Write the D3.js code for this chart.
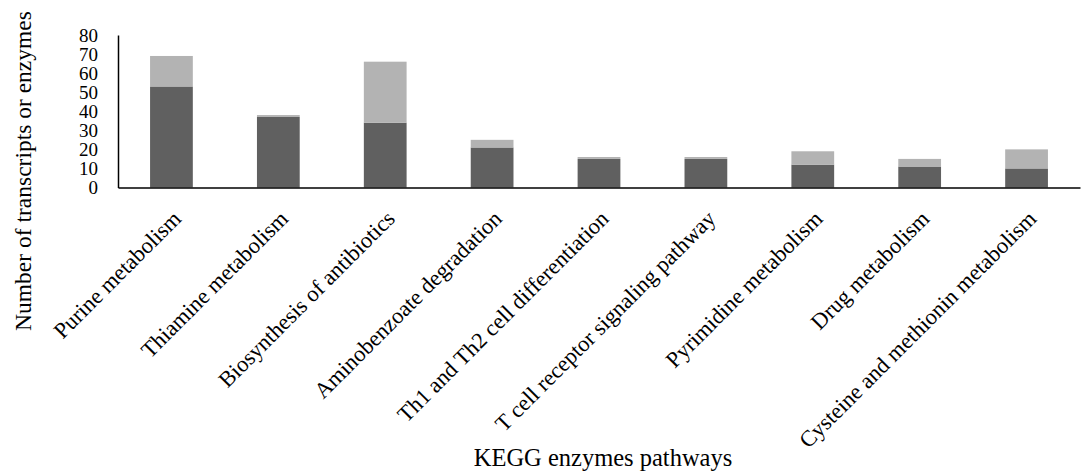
<!DOCTYPE html>
<html><head><meta charset="utf-8">
<script src="https://cdn.jsdelivr.net/npm/d3@7"></script>
<style>body{margin:0;background:#fff}svg{display:block}text{font-family:"Liberation Serif","Times New Roman",serif;fill:#000}</style>
</head><body>
<svg id="c" width="1092" height="474"></svg>
<script>
const categories = ["Purine metabolism","Thiamine metabolism","Biosynthesis of antibiotics","Aminobenzoate degradation","Th1 and Th2 cell differentiation","T cell receptor signaling pathway","Pyrimidine metabolism","Drug metabolism","Cysteine and methionin metabolism"];
const darkValues = [53,37,34,21,15,15,12,11,10];
const lightValues = [16,1,32,4,1,1,7,4,10];
const yTicks = [0,10,20,30,40,50,60,70,80];

const svg = d3.select("#c");
const mLeft = 118, mRight = 1080, mTop = 35, mBottom = 187.5;
const x = d3.scaleBand().domain(categories).range([mLeft,mRight]).paddingInner(0.6).paddingOuter(0.3);
const y = d3.scaleLinear().domain([0,80]).range([mBottom,mTop]);

const data = categories.map((c,i)=>({c, dark:darkValues[i], light:lightValues[i]}));
const g = svg.append("g");
g.selectAll("rect.dark").data(data).join("rect").attr("class","dark")
  .attr("x",d=>x(d.c)).attr("width",x.bandwidth())
  .attr("y",d=>y(d.dark)).attr("height",d=>y(0)-y(d.dark)).attr("fill","#606060");
g.selectAll("rect.light").data(data).join("rect").attr("class","light")
  .attr("x",d=>x(d.c)).attr("width",x.bandwidth())
  .attr("y",d=>y(d.dark+d.light)).attr("height",d=>y(d.dark)-y(d.dark+d.light)).attr("fill","#b3b3b3");

const ya = svg.append("g").attr("transform",`translate(${mLeft},0)`)
  .call(d3.axisLeft(y).tickValues(yTicks).tickSize(0).tickPadding(20).tickFormat(d3.format("d")));
ya.select(".domain").attr("stroke","#000").attr("stroke-width",1.5);
ya.selectAll("text").attr("font-size","19px").attr("font-family","Liberation Serif");

const xa = svg.append("g").attr("transform",`translate(0,${mBottom})`)
  .call(d3.axisBottom(x).tickSize(0).tickFormat(""));
xa.select(".domain").attr("stroke","#000").attr("stroke-width",1.5);

svg.append("g").selectAll("text").data(categories).join("text")
  .attr("text-anchor","end").attr("font-size","22.5px")
  .attr("transform",d=>`translate(${x(d)+x.bandwidth()/2+11},220) rotate(-45)`)
  .text(d=>d);

svg.append("text").attr("text-anchor","middle").attr("font-size","24.5px")
  .attr("x",603).attr("y",466).text("KEGG enzymes pathways");
svg.append("text").attr("text-anchor","middle").attr("font-size","23.5px")
  .attr("transform","translate(31,171) rotate(-90)").text("Number of transcripts or enzymes");
</script>
</body></html>
